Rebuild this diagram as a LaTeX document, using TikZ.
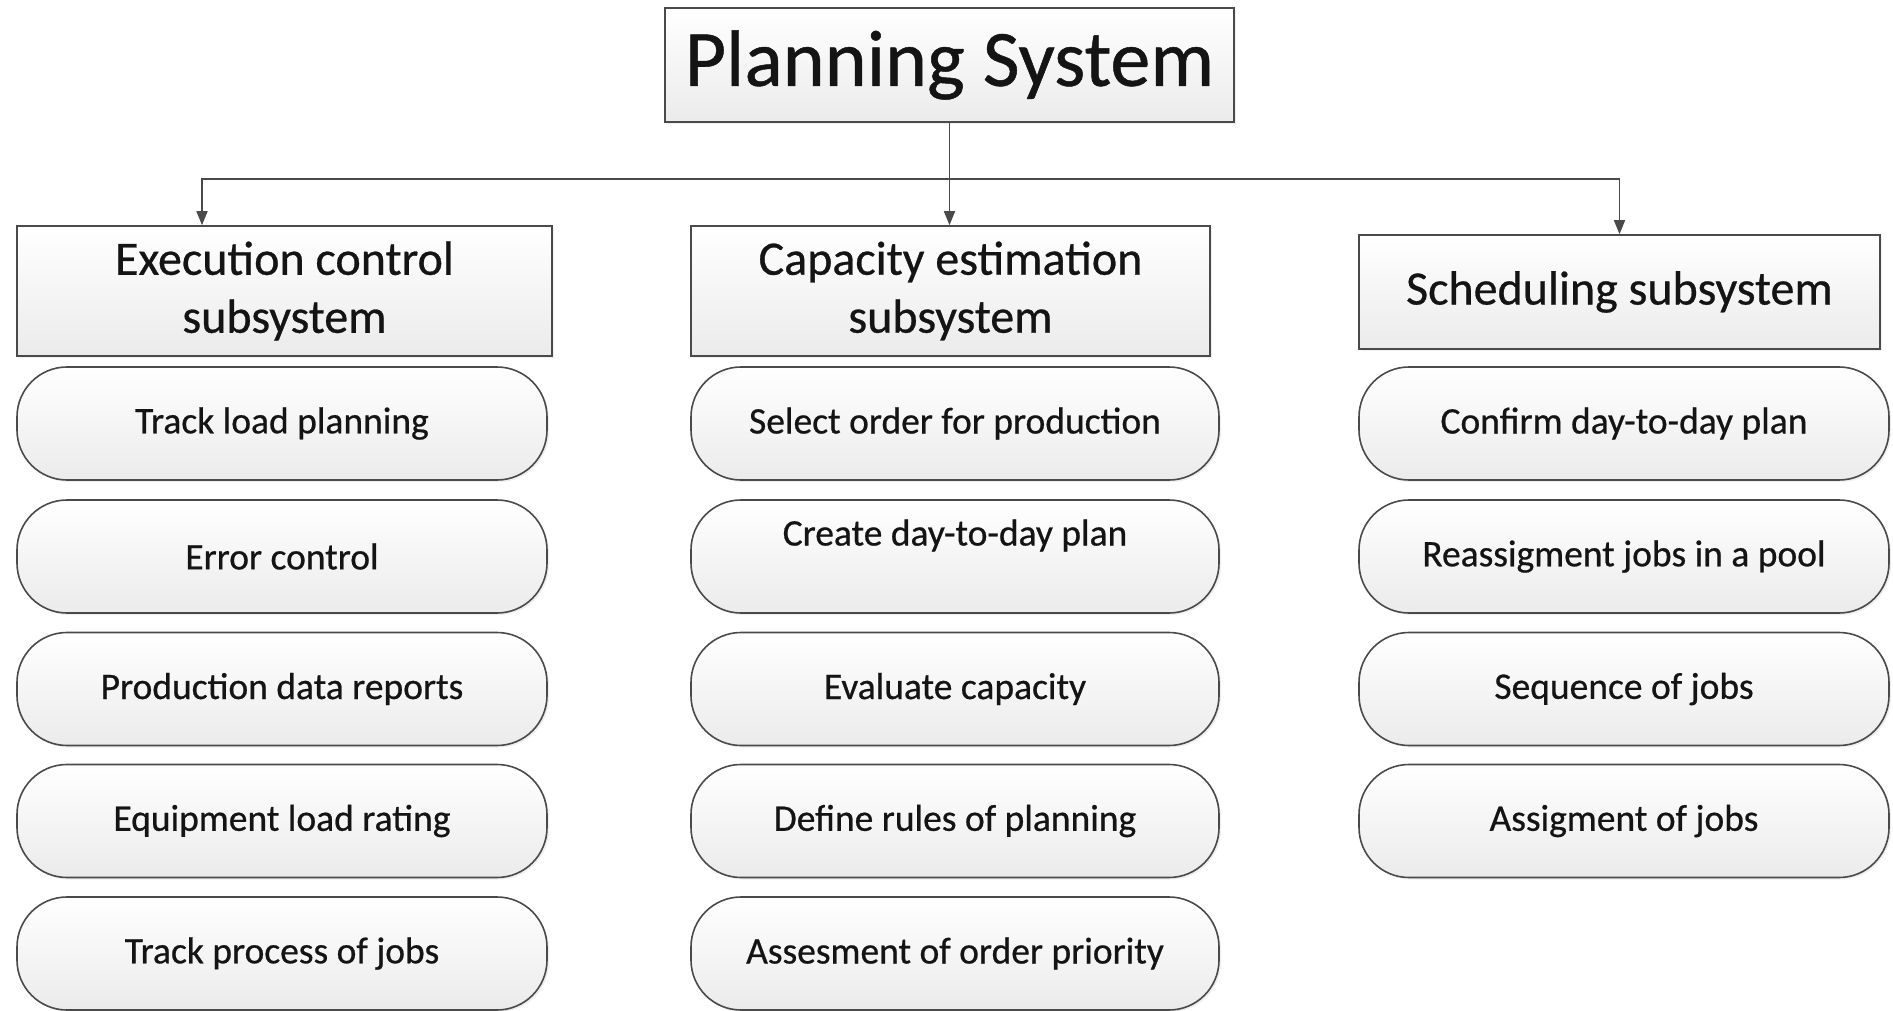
\documentclass[tikz,border=0pt]{standalone}
\usepackage{fontspec}
\setmainfont{Carlito}[RawFeature={embolden=0.6}]
\usetikzlibrary{arrows.meta,shadows}
\definecolor{edge}{HTML}{4A4A4A}
\definecolor{fillbot}{HTML}{EBEBEB}
\tikzset{
  base/.style={draw=edge, line width=1.6pt, top color=white, bottom color=fillbot,
    inner sep=0pt, align=center, text=black!92,
    drop shadow={shadow xshift=2pt, shadow yshift=-2pt, opacity=0.12}},
  topbox/.style={base, rectangle, font=\fontsize{80}{90}\selectfont},
  subbox/.style={base, rectangle, font=\fontsize{48}{58}\selectfont},
  pill/.style={base, rectangle, rounded corners=50pt, minimum height=113pt,
    font=\fontsize{37.5}{42}\selectfont},
  arr/.style={draw=edge, line width=1.6pt, -{Triangle[length=14pt,width=11pt]}},
  ln/.style={draw=edge, line width=1.6pt}
}
\begin{document}
\begin{tikzpicture}[x=1pt,y=-1pt]
\useasboundingbox[fill=white] (0,0) rectangle (1893,1011);

\node[topbox, minimum width=569pt, minimum height=114pt] (ps) at (949.5,65) {Planning System};

\node[subbox, minimum width=535pt, minimum height=130pt] (ec) at (284.5,291) {Execution control\\subsystem};
\node[subbox, minimum width=519pt, minimum height=130pt] (ce) at (950.5,291) {Capacity estimation\\subsystem};
\node[subbox, minimum width=521pt, minimum height=114pt] (ss) at (1619.5,292) {Scheduling subsystem};

% pills left
\node[pill, minimum width=530pt] (l1) at (282,423.5) {Track load planning};
\node[pill, minimum width=530pt] (l2) at (282,556.5) {Error control};
\node[pill, minimum width=530pt] (l3) at (282,689) {Production data reports};
\node[pill, minimum width=530pt] (l4) at (282,821) {Equipment load rating};
\node[pill, minimum width=530pt] (l5) at (282,953.5) {Track process of jobs};
% pills middle
\node[pill, minimum width=528pt] (m1) at (955,423.5) {Select order for production};
\node[pill, minimum width=528pt, text depth=48pt] (m2) at (955,556.5) {Create day-to-day plan};
\node[pill, minimum width=528pt] (m3) at (955,689) {Evaluate capacity};
\node[pill, minimum width=528pt] (m4) at (955,821) {Define rules of planning};
\node[pill, minimum width=528pt] (m5) at (955,953.5) {Assesment of order priority};
% pills right
\node[pill, minimum width=530pt] (r1) at (1624,423.5) {Confirm day-to-day plan};
\node[pill, minimum width=530pt] (r2) at (1624,556.5) {Reassigment jobs in a pool};
\node[pill, minimum width=530pt] (r3) at (1624,689) {Sequence of jobs};
\node[pill, minimum width=530pt] (r4) at (1624,821) {Assigment of jobs};

% connectors
\coordinate (j) at (949,179);
\coordinate (la) at ([xshift=-82.5pt]ec.north);
\draw[arr] (ps.south) -- (ce.north -| ps.south);
\draw[arr] (j) -| (la);
\draw[arr] (j) -| (ss.north);
\end{tikzpicture}
\end{document}
